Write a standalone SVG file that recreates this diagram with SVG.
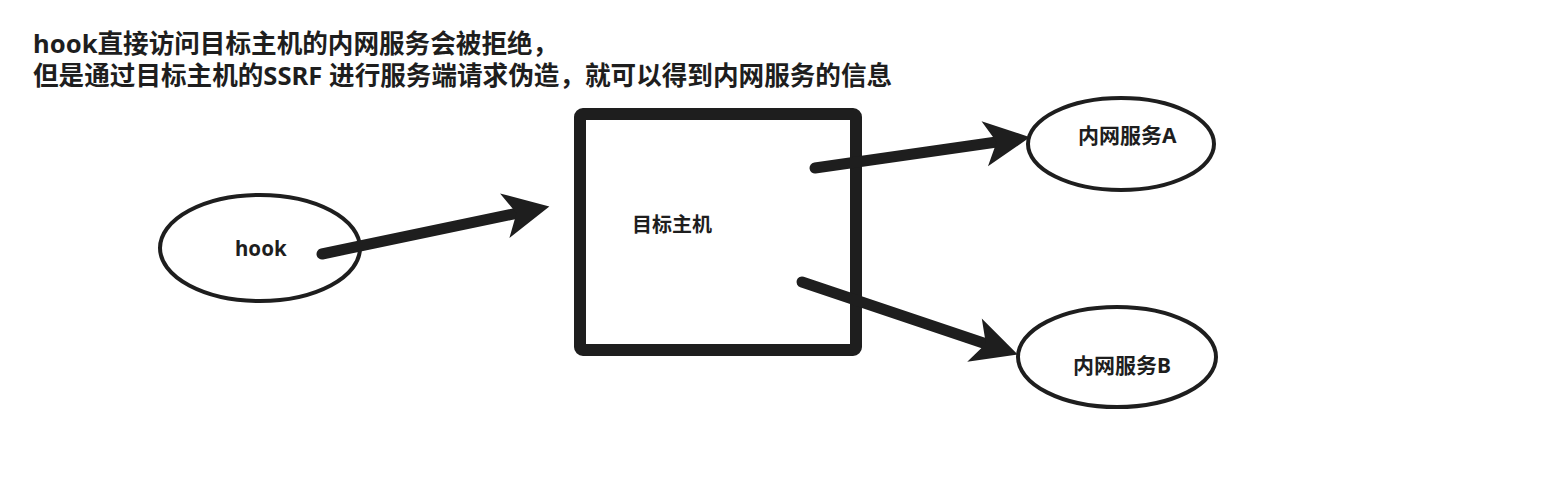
<svg xmlns="http://www.w3.org/2000/svg" width="1541" height="485" viewBox="0 0 1541 485">
<style>
.t{font-family:"Noto Sans","Noto Sans CJK SC",sans-serif;font-weight:bold;fill:#1e1e1e}
.e{fill:none;stroke:#1e1e1e;stroke-width:4}
.c{stroke:#1e1e1e;stroke-width:11;stroke-linecap:round;fill:none}
</style>
<defs>
<marker id="ah" markerUnits="userSpaceOnUse" orient="auto" refX="0" refY="0" markerWidth="60" markerHeight="60" viewBox="-20 -25 50 50" overflow="visible">
<path d="M25 0 L-13 -19 L-3 0 L-13 19 Z" fill="#1e1e1e"/>
</marker>
</defs>
<rect width="1541" height="485" fill="#fff"/>
<g id="title">
<text class="t" x="33" y="53" font-size="25.6">hook直接访问目标主机的内网服务会被拒绝，</text>
<text class="t" x="33" y="85" font-size="25.6">但是通过目标主机的SSRF 进行服务端请求伪造，就可以得到内网服务的信息</text>
</g>
<g id="node-hook">
<ellipse class="e" cx="260" cy="248" rx="100" ry="53"/>
<text class="t" x="235" y="256" font-size="20.5">hook</text>
</g>
<g id="node-target">
<rect x="580" y="114" width="276" height="236" rx="3" fill="none" stroke="#1e1e1e" stroke-width="12" stroke-linejoin="round"/>
<text class="t" x="632" y="232" font-size="20">目标主机</text>
</g>
<g id="node-a">
<ellipse class="e" cx="1121" cy="144" rx="93" ry="46"/>
<text class="t" x="1078" y="143" font-size="21">内网服务A</text>
</g>
<g id="node-b">
<ellipse class="e" cx="1117" cy="357" rx="99" ry="50"/>
<text class="t" x="1073" y="373" font-size="21">内网服务B</text>
</g>
<g id="connectors">
<line class="c" x1="322" y1="254" x2="520" y2="212.6" marker-end="url(#ah)"/>
<line class="c" x1="815" y1="168" x2="1000.2" y2="141.5" marker-end="url(#ah)"/>
<line class="c" x1="802" y1="282" x2="989.3" y2="345" marker-end="url(#ah)"/>
</g>
</svg>
